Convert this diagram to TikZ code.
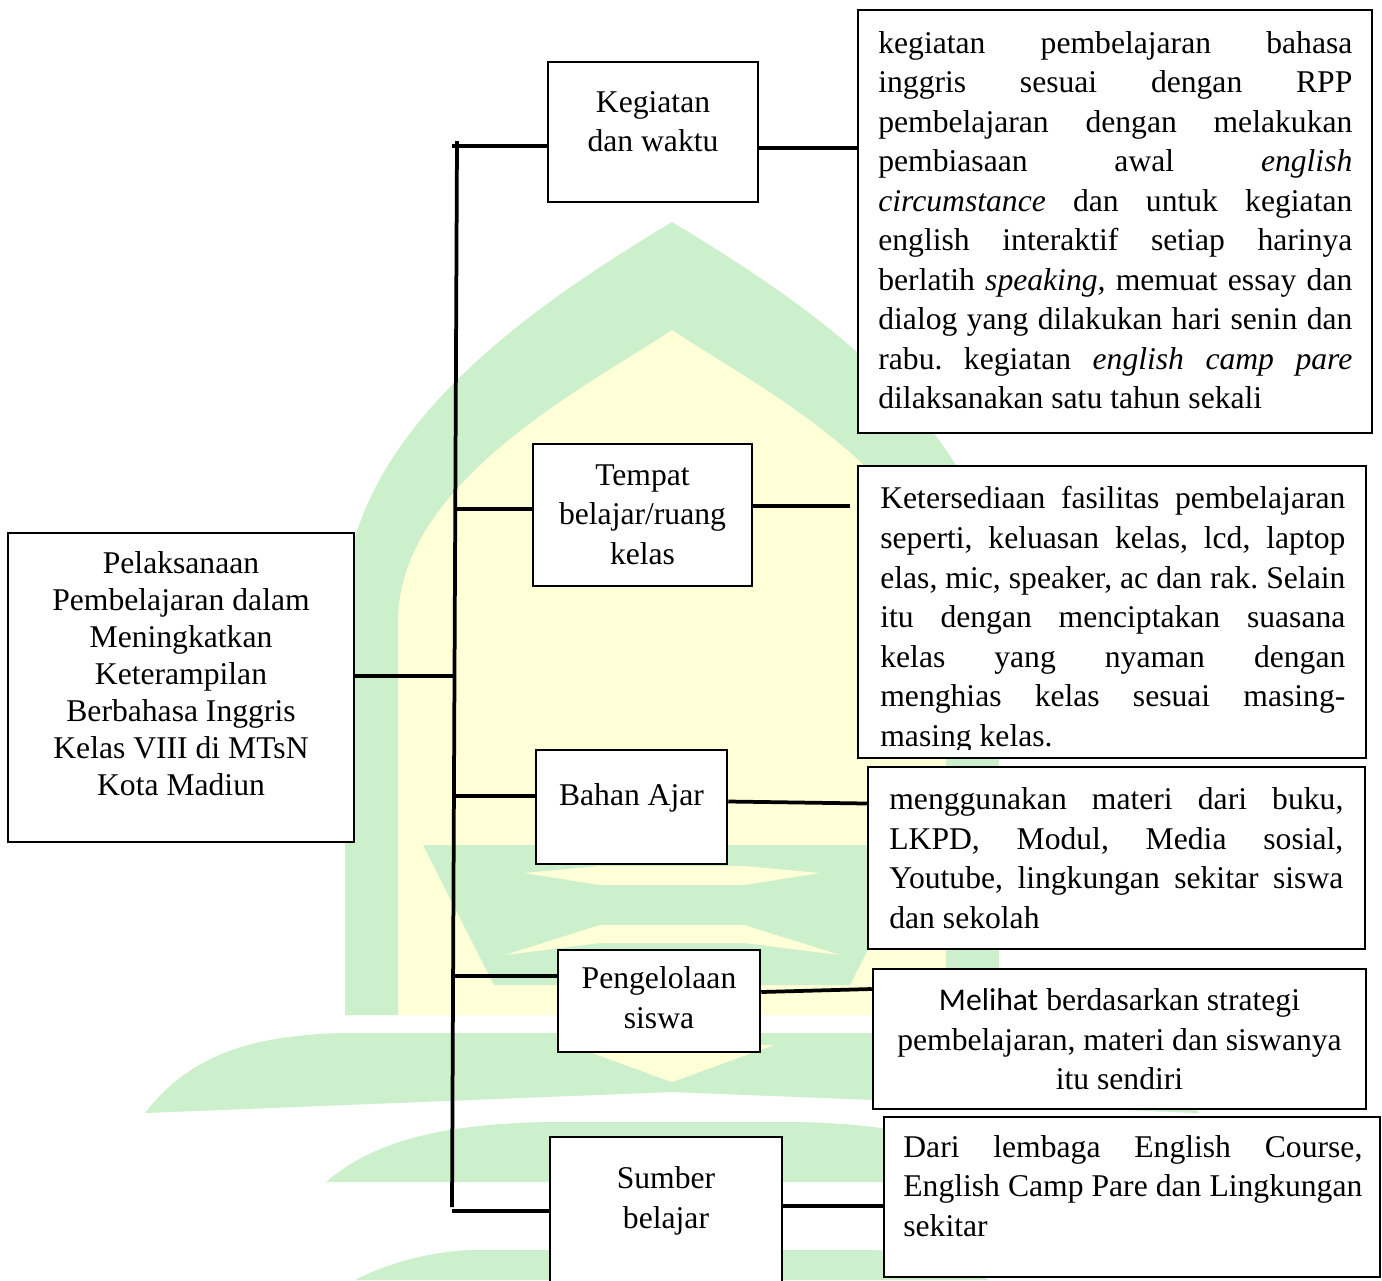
\documentclass[tikz,border=0pt]{standalone}
\usepackage{fontspec}
\setmainfont{Liberation Serif}
\newfontfamily\carl{Carlito}
\usetikzlibrary{fit}
\definecolor{wmg}{HTML}{CCF0CC}
\definecolor{wmy}{HTML}{FFFFD8}
\frenchspacing
\newcommand\ns{\spaceskip=.25em\xspaceskip=.25em\relax}
\newcommand\J[2]{\makebox[#1][s]{\spaceskip=0pt\xspaceskip=0pt\relax #2}}
\begin{document}
\begin{tikzpicture}[x=0.2mm,y=-0.2mm,
  box/.style={draw, line width=0.5mm, fill=white, inner sep=0pt},
  conn/.style={line width=0.75mm},
  txt/.style={inner sep=0pt, font=\fontsize{18}{22.5}\selectfont},
]
\useasboundingbox (0,0) rectangle (1382,1280);
\fill[white] (0,0) rectangle (1382,1280);
% ---------- watermark (faint logo) ----------
\fill[wmg] (345,1015) -- (345,600) .. controls (350,420) and (560,290) .. (672,222)
  .. controls (784,290) and (994,420) .. (999,600) -- (999,1015) -- cycle;
\fill[wmy] (398,1015) -- (398,620) .. controls (400,480) and (590,385) .. (672,330)
  .. controls (754,385) and (944,480) .. (946,620) -- (946,1015) -- cycle;
\fill[wmg] (423,845) -- (921,845) -- (850,985) -- (494,985) -- cycle;
\fill[wmy] (524,873) -- (600,866) -- (744,866) -- (820,873) -- (744,885) -- (600,885) -- cycle;
\fill[wmy] (505,955) -- (600,925) -- (744,925) -- (840,955) -- (744,943) -- (600,943) -- cycle;
\fill[wmg] (145,1113) .. controls (190,1055) and (250,1036) .. (340,1033) -- (1004,1033)
  .. controls (1094,1036) and (1154,1055) .. (1199,1113) -- (672,1092) -- cycle;
\fill[wmy] (570,1045) -- (774,1045) -- (672,1082) -- cycle;
\fill[wmg] (326,1182) .. controls (380,1135) and (460,1124) .. (546,1122) -- (798,1122)
  .. controls (884,1124) and (964,1135) .. (1018,1182) -- cycle;
\fill[wmg] (355,1280) .. controls (390,1262) and (430,1252) .. (470,1250) -- (874,1250)
  .. controls (914,1252) and (954,1262) .. (989,1280) -- cycle;
% ---------- boxes ----------
\node[box, fit={(8,533) (354,842)}] (main) {};
\node[box, fit={(548,62) (758,202)}] (kg) {};
\node[box, fit={(533,444) (752,586)}] (tp) {};
\node[box, fit={(536,750) (727,864)}] (bh) {};
\node[box, fit={(558,950) (760,1052)}] (pg) {};
\node[box, fit={(550,1137) (782,1300)}] (sb) {};
\node[box, fit={(858,10) (1372,433)}] (b1) {};
\node[box, fit={(858,466) (1366,758)}] (b2) {};
\node[box, fit={(868,767) (1365,949)}] (b3) {};
\node[box, fit={(873,969) (1366,1109)}] (b4) {};
\node[box, fit={(884,1117) (1380,1277)}] (b5) {};
% ---------- connectors ----------
\coordinate (ttop) at (457,141);
\coordinate (tbot) at (452,1207);
\coordinate (m0) at (454,676);
\coordinate (l1) at (452,146);
\coordinate (l2) at (455,509);
\coordinate (l3) at (455,796);
\coordinate (l4) at (454,976);
\coordinate (l5) at (452,1211);
\coordinate (r1) at (0,148);
\coordinate (r2) at (850,506);
\coordinate (r3a) at (0,801.5);
\coordinate (r3b) at (0,803.5);
\coordinate (r4a) at (0,992);
\coordinate (r4b) at (0,989);
\coordinate (r5) at (0,1206);
\draw[conn] (ttop) -- (tbot);
\draw[conn] (main.east |- m0) -- (m0);
\draw[conn] (l1) -- (l1 -| kg.west);
\draw[conn] (l2) -- (l2 -| tp.west);
\draw[conn] (l3) -- (l3 -| bh.west);
\draw[conn] (l4) -- (l4 -| pg.west);
\draw[conn] (l5) -- (l5 -| sb.west);
\draw[conn] (kg.east |- r1) -- (b1.west |- r1);
\draw[conn] (tp.east |- r2) -- (r2);
\draw[conn] (bh.east |- r3a) -- (b3.west |- r3b);
\draw[conn] (pg.east |- r4a) -- (b4.west |- r4b);
\draw[conn] (sb.east |- r5) -- (b5.west |- r5);
% ---------- texts ----------
\node[txt, anchor=north, text width=68mm, align=center, font=\fontsize{18}{21}\selectfont] (mainT) at (181,551.3)
  {\ns Pelaksanaan\\Pembelajaran dalam\\Meningkatkan\\Keterampilan\\Berbahasa Inggris\\Kelas VIII di MTsN\\Kota Madiun};
\node[txt, anchor=north, text width=40mm, align=center] (kgT) at (653,91) {\ns Kegiatan\\dan waktu};
\node[txt, anchor=north, text width=42mm, align=center] (tpT) at (642.5,464) {\ns Tempat\\belajar/ruang\\kelas};
\node[txt, anchor=base, text width=36mm, align=center] (bhT) at (631.5,805) {\ns Bahan Ajar};
\node[txt, anchor=north, text width=38mm, align=center] (pgT) at (659,966.3) {\ns Pengelolaan\\siswa};
\node[txt, anchor=north, text width=44mm, align=center] (sbT) at (666,1166.3) {\ns Sumber\\belajar};
\node[txt, anchor=north west, text width=94.8mm, align=left] (b1T) at (878,30.8)
  {\ns\J{94.8mm}{kegiatan pembelajaran bahasa}\\
   \J{94.8mm}{inggris sesuai dengan RPP}\\
   \J{94.8mm}{pembelajaran dengan melakukan}\\
   \J{94.8mm}{pembiasaan awal \textit{english}}\\
   \J{94.8mm}{\textit{circumstance} dan untuk kegiatan}\\
   \J{94.8mm}{english interaktif setiap harinya}\\
   \J{94.8mm}{berlatih \textit{speaking,} memuat essay dan}\\
   \J{94.8mm}{dialog yang dilakukan hari senin dan}\\
   \J{94.8mm}{rabu. kegiatan \textit{english camp pare}}\\
   dilaksanakan satu tahun sekali};
\begin{scope}
\clip (858,466) rectangle (1366,749);
\node[txt, anchor=north west, text width=93mm, align=left] (b2T) at (880,486.3)
  {\ns\J{93mm}{Ketersediaan fasilitas pembelajaran}\\
   \J{93mm}{seperti, keluasan kelas, lcd, laptop}\\
   \J{93mm}{elas, mic, speaker, ac dan rak. Selain}\\
   \J{93mm}{itu dengan menciptakan suasana}\\
   \J{93mm}{kelas yang nyaman dengan}\\
   \J{93mm}{menghias kelas sesuai masing-}\\
   masing kelas.};
\end{scope}
\node[txt, anchor=north west, text width=90.8mm, align=left] (b3T) at (889,787.3)
  {\ns\J{90.8mm}{menggunakan materi dari buku,}\\
   \J{90.8mm}{LKPD, Modul, Media sosial,}\\
   \J{90.8mm}{Youtube, lingkungan sekitar siswa}\\
   dan sekolah};
\node[txt, anchor=north, text width=95mm, align=center] (b4T) at (1119.5,988.3)
  {\ns{\carl Melihat} berdasarkan strategi\\pembelajaran, materi dan siswanya\\itu sendiri};
\node[txt, anchor=north west, text width=91.8mm, align=left] (b5T) at (903,1134.8)
  {\ns\J{91.8mm}{Dari lembaga English Course,}\\
   \J{91.8mm}{English Camp Pare dan Lingkungan}\\
   sekitar};
\end{tikzpicture}
\end{document}
